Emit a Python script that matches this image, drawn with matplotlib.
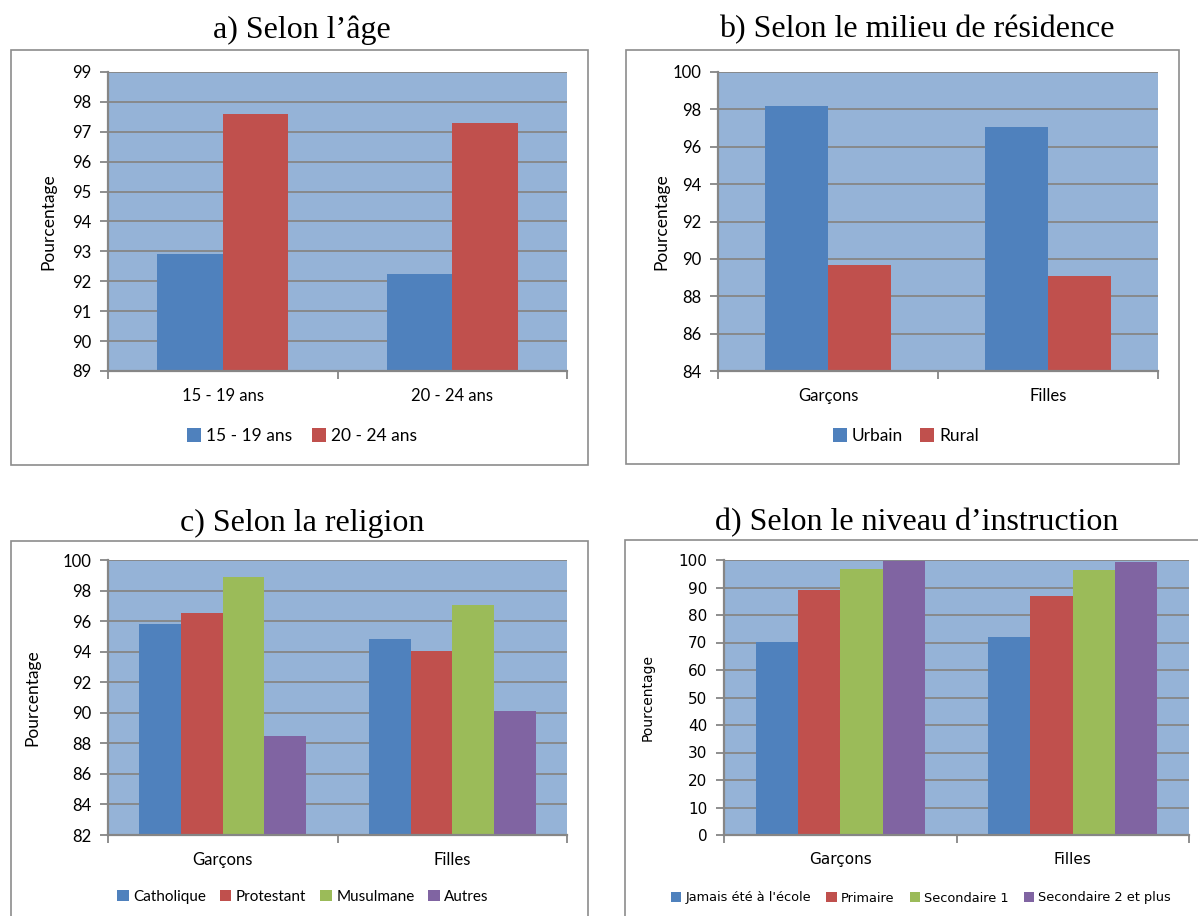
import matplotlib
matplotlib.use("Agg")
import matplotlib.pyplot as plt
from matplotlib.patches import Rectangle
import numpy as np

# ---------------- data ----------------
age_categories = ["15 - 19 ans", "20 - 24 ans"]
age_series = ["15 - 19 ans", "20 - 24 ans"]
age_values = [[92.9, 92.23], [97.6, 97.3]]

res_categories = ["Garçons", "Filles"]
res_series = ["Urbain", "Rural"]
res_values = [[98.2, 97.05], [89.65, 89.1]]

rel_categories = ["Garçons", "Filles"]
rel_series = ["Catholique", "Protestant", "Musulmane", "Autres"]
rel_values = [[95.8, 94.8], [96.5, 94.05], [98.87, 97.05], [88.5, 90.1]]

ins_categories = ["Garçons", "Filles"]
ins_series = ["Jamais été à l'école", "Primaire", "Secondaire 1", "Secondaire 2 et plus"]
ins_values = [[70.2, 72.0], [89.0, 87.0], [96.9, 96.5], [99.6, 99.4]]

titles = ["a) Selon l\u2019âge", "b) Selon le milieu de résidence",
          "c) Selon la religion", "d) Selon le niveau d\u2019instruction"]

# ---------------- style ----------------
COLORS = ["#4F81BD", "#C0504D", "#9BBB59", "#8064A2"]
BG = "#95B3D7"
GRID = "#868686"
W, H = 1198, 916

fig = plt.figure(figsize=(W / 100, H / 100), dpi=100)


def rect(l, t, r, b):
    return [l / W, 1 - b / H, (r - l) / W, (b - t) / H]


def box(l, t, r, b):
    fig.patches.append(Rectangle((l / W, 1 - b / H), (r - l) / W, (b - t) / H,
                                 transform=fig.transFigure, fill=False,
                                 edgecolor="#8C8C8C", linewidth=1.2, zorder=0))


def panel(plot_rect, cats, series, values, ylim, ystep, font, tick_fs, ylab_fs,
          xt_fs, leg_fs, leg_xy, leg_colsp, leg_hl, title, title_xy, ylab_x):
    ax = fig.add_axes(rect(*plot_rect))
    n = len(series)
    bw = 1.0 / (n + 1.5)
    centers = np.arange(len(cats)) + 0.5
    for i, (s, vals) in enumerate(zip(series, values)):
        offs = (i - (n - 1) / 2) * bw
        ax.bar(centers + offs, np.array(vals) - ylim[0], width=bw, bottom=ylim[0],
               color=COLORS[i], label=s, zorder=3, linewidth=0)
    ax.set_facecolor(BG)
    ax.set_xlim(0, len(cats))
    ax.set_ylim(*ylim)
    ax.set_yticks(np.arange(ylim[0], ylim[1] + 0.01, ystep))
    ax.yaxis.grid(True, color=GRID, linewidth=1.3, zorder=1)
    ax.set_axisbelow(True)
    for sp in ["top", "right"]:
        ax.spines[sp].set_visible(False)
    for sp in ["left", "bottom"]:
        ax.spines[sp].set_color(GRID)
        ax.spines[sp].set_linewidth(1.6)
        ax.spines[sp].set_zorder(4)
    ax.set_xticks(np.arange(len(cats) + 1))
    ax.set_xticklabels([])
    ax.tick_params(axis="x", which="major", length=6, color=GRID, width=1.3)
    ax.set_xticks(centers, minor=True)
    ax.set_xticklabels(cats, minor=True, fontsize=xt_fs, family=font)
    ax.tick_params(axis="x", which="minor", length=0, pad=12)
    ax.tick_params(axis="y", length=6, color=GRID, width=1.3, labelsize=tick_fs, pad=6)
    for lab in ax.get_yticklabels():
        lab.set_family(font)
    fig.text(ylab_x / W, 1 - (plot_rect[1] + plot_rect[3]) / 2 / H, "Pourcentage",
             rotation=90, ha="center", va="center", fontsize=ylab_fs, family=font)
    fig.legend(*ax.get_legend_handles_labels(), loc="center",
               bbox_to_anchor=(leg_xy[0] / W, 1 - leg_xy[1] / H), ncol=n, frameon=False,
               prop={"family": font, "size": leg_fs}, handlelength=leg_hl,
               handleheight=leg_hl, handletextpad=0.3, columnspacing=leg_colsp)
    fig.text(title_xy[0] / W, 1 - title_xy[1] / H, title, ha="center", va="center",
             fontsize=23, family="Liberation Serif")
    return ax


# boxes
box(11, 50, 588, 465)
box(626, 50, 1179, 464)
box(11, 541, 588, 925)
box(625, 540, 1210, 925)

panel((108, 72, 567, 371), age_categories, age_series, age_values, (89, 99), 1,
      "Lato", 12, 12.5, 12, 12.5, (302, 436), 1.1, 0.8, titles[0], (302, 30), 48)
panel((718, 72, 1158, 371), res_categories, res_series, res_values, (84, 100), 2,
      "Lato", 12, 12.5, 12, 12.5, (906, 436), 1.0, 0.8, titles[1], (917, 30), 661)
panel((108, 560, 567, 835), rel_categories, rel_series, rel_values, (82, 100), 2,
      "Lato", 12, 12.5, 12, 11, (303, 897), 0.9, 0.75, titles[2], (302, 523), 32)
panel((724, 560, 1189, 835), ins_categories, ins_series, ins_values, (0, 100), 10,
      "DejaVu Sans", 11, 10, 11, 9.3, (921, 898), 1.2, 0.8, titles[3], (917, 523), 648)

fig.savefig("out.png", dpi=100, facecolor="white")
